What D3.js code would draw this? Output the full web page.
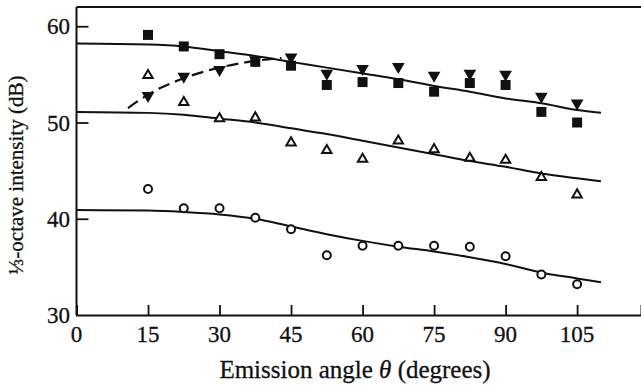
<!DOCTYPE html>
<html>
<head>
<meta charset="utf-8">
<script src="https://cdn.jsdelivr.net/npm/d3@7"></script>
<style>
  body { margin: 0; background: #fff; }
  svg text { font-family: "Liberation Serif", "DejaVu Serif", serif; fill: #111; stroke: #111; stroke-width: 0.3; }
</style>
</head>
<body>
<div id="chart"></div>
<script>
// emission angle vs 1/3-octave intensity, four measured series + fitted curves

const angles = [15, 22.5, 30, 37.5, 45, 52.5, 60, 67.5, 75, 82.5, 90, 97.5, 105];
const squares = [59.1, 57.9, 57.1, 56.3, 55.9, 53.9, 54.2, 54.1, 53.2, 54.1, 53.9, 51.1, 50.0];
const downTri = [52.8, 54.8, 55.5, 56.5, 56.8, 55.1, 55.6, 55.8, 54.9, 55.1, 55.0, 52.7, 52.0];
const upTri = [54.9, 52.1, 50.4, 50.5, 47.9, 47.1, 46.2, 48.1, 47.2, 46.3, 46.1, 44.3, 42.5];
const circles = [43.1, 41.1, 41.1, 40.1, 38.9, 36.2, 37.2, 37.2, 37.2, 37.1, 36.1, 34.2, 33.2];

// fitted curves
const fitAngles = [0, 15, 22.5, 30, 37.5, 45, 52.5, 60, 67.5, 75, 82.5, 90, 97.5, 105, 110];
const topFit = [58.2, 58.1, 57.9, 57.4, 56.9, 56.3, 55.7, 55.1, 54.5, 53.8, 53.2, 52.5, 52.0, 51.3, 51.0];
const midFit = [51.1, 51.0, 50.8, 50.4, 50.0, 49.4, 48.8, 48.1, 47.4, 46.7, 46.0, 45.4, 44.7, 44.2, 43.9];
const lowFit = [40.9, 40.85, 40.7, 40.45, 40.0, 39.2, 38.4, 37.7, 37.1, 36.6, 36.0, 35.3, 34.4, 33.8, 33.4];
const dashAngles = [10.8, 15, 22.5, 30, 37.5, 43];
const dashFit = [51.5, 52.9, 54.6, 55.7, 56.4, 56.7];

const xTicks = [0, 15, 30, 45, 60, 75, 90, 105];
const yTicks = [30, 40, 50, 60];

const width = 641;
const height = 389;

const x = d3.scaleLinear().domain([0, 118.4]).range([76.5, 641]);
const y = d3.scaleLinear().domain([30, 62]).range([315, 7]);

const svg = d3.select("#chart").append("svg")
    .attr("width", width)
    .attr("height", height)
    .attr("viewBox", [0, 0, width, height]);

// frame: left, top, bottom (open on the right)
const frame = svg.append("g").attr("stroke", "#111").attr("stroke-width", 2).attr("fill", "none");
frame.append("line").attr("x1", x(0)).attr("x2", x(0)).attr("y1", y(62)).attr("y2", y(30));
frame.append("line").attr("x1", x(0)).attr("x2", width).attr("y1", y(62)).attr("y2", y(62));

svg.append("g")
    .attr("transform", `translate(0,${y(30)})`)
    .call(d3.axisTop(x).tickValues(xTicks.filter(d => d > 0)).tickSize(10).tickFormat(""))
    .call(g => g.select(".domain").attr("stroke-width", 2).attr("stroke", "#111"))
    .call(g => g.selectAll(".tick line").attr("stroke-width", 1.8).attr("stroke", "#111"));

svg.append("g")
    .attr("transform", `translate(${x(0)},0)`)
    .call(d3.axisRight(y).tickValues(yTicks.filter(d => d > 30)).tickSize(12).tickFormat(""))
    .call(g => g.select(".domain").remove())
    .call(g => g.selectAll(".tick line").attr("stroke-width", 1.8).attr("stroke", "#111"));

// tick labels
svg.append("g").selectAll("text")
  .data(xTicks)
  .join("text")
    .attr("x", d => x(d))
    .attr("y", 342)
    .attr("text-anchor", "middle")
    .attr("font-size", 23)
    .text(d => d);

svg.append("g").selectAll("text")
  .data(yTicks)
  .join("text")
    .attr("x", 70)
    .attr("y", d => y(d) + 8)
    .attr("text-anchor", "end")
    .attr("font-size", 23)
    .text(d => d);

// axis titles
svg.append("text")
    .attr("x", 355)
    .attr("y", 378)
    .attr("text-anchor", "middle")
    .attr("font-size", 25)
    .html('Emission angle <tspan font-style="italic">θ</tspan> (degrees)');

svg.append("text")
    .attr("transform", "translate(23,175) rotate(-90)")
    .attr("text-anchor", "middle")
    .attr("font-size", 21)
    .text("⅓-octave intensity (dB)");

// fitted curves
const line = d3.line().curve(d3.curveMonotoneX).x(d => x(d[0])).y(d => y(d[1]));
const fits = [topFit, midFit, lowFit].map(f => d3.zip(fitAngles, f));

svg.append("g")
    .attr("fill", "none")
    .attr("stroke", "#111")
    .attr("stroke-width", 2)
  .selectAll("path")
  .data(fits)
  .join("path")
    .attr("d", line);

svg.append("path")
    .attr("fill", "none")
    .attr("stroke", "#111")
    .attr("stroke-width", 2.2)
    .attr("stroke-dasharray", "12,6")
    .attr("d", line(d3.zip(dashAngles, dashFit)));

// markers
const sym = (type, size) => d3.symbol().type(type).size(size)();

svg.append("g").selectAll("path")
  .data(d3.zip(angles, squares))
  .join("path")
    .attr("transform", d => `translate(${x(d[0])},${y(d[1])})`)
    .attr("d", sym(d3.symbolSquare, 100))
    .attr("fill", "#111");

svg.append("g").selectAll("path")
  .data(d3.zip(angles, downTri))
  .join("path")
    .attr("transform", d => `translate(${x(d[0])},${y(d[1])}) rotate(180)`)
    .attr("d", sym(d3.symbolTriangle, 70))
    .attr("fill", "#111");

svg.append("g").selectAll("path")
  .data(d3.zip(angles, upTri))
  .join("path")
    .attr("transform", d => `translate(${x(d[0])},${y(d[1])})`)
    .attr("d", sym(d3.symbolTriangle, 38))
    .attr("fill", "#fff")
    .attr("stroke", "#111")
    .attr("stroke-width", 2);

svg.append("g").selectAll("circle")
  .data(d3.zip(angles, circles))
  .join("circle")
    .attr("cx", d => x(d[0]))
    .attr("cy", d => y(d[1]))
    .attr("r", 4)
    .attr("fill", "#fff")
    .attr("stroke", "#111")
    .attr("stroke-width", 2);
</script>
</body>
</html>
